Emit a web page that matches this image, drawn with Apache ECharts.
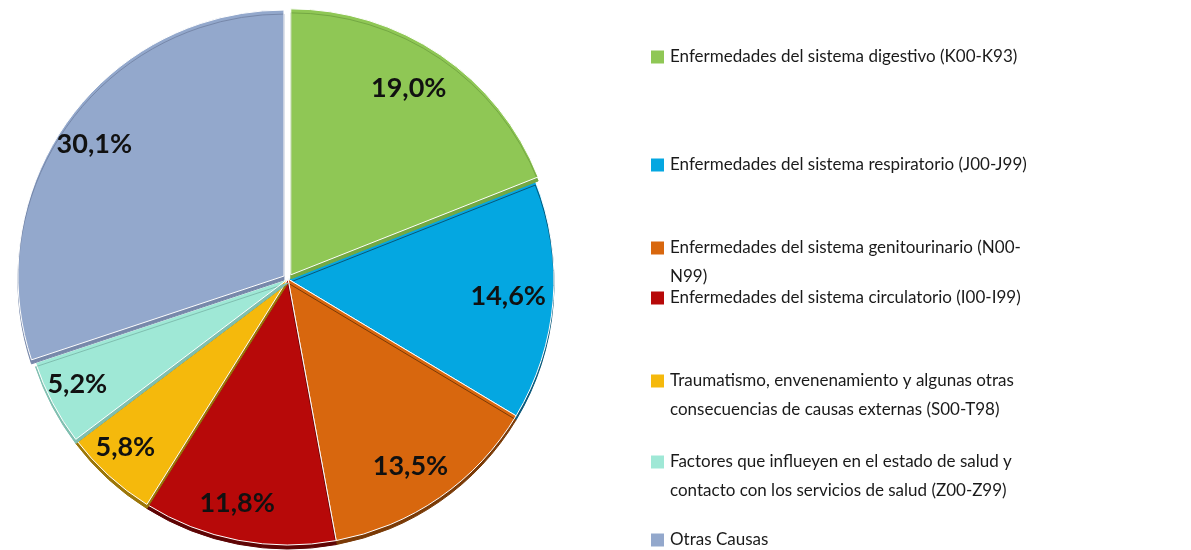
<!DOCTYPE html>
<html>
<head>
<meta charset="utf-8">
<script src="https://cdn.jsdelivr.net/npm/echarts@6/dist/echarts.min.js"></script>
<style>
html, body { margin: 0; padding: 0; background: #fff; }
#main { width: 1191px; height: 550px; }
</style>
</head>
<body>
<div id="main"></div>
<script>
// categorias y porcentajes
var categories = [
    'Enfermedades del sistema digestivo (K00-K93)',
    'Enfermedades del sistema respiratorio (J00-J99)',
    'Enfermedades del sistema genitourinario (N00-N99)',
    'Enfermedades del sistema circulatorio (I00-I99)',
    'Traumatismo, envenenamiento y algunas otras consecuencias de causas externas (S00-T98)',
    'Factores que influeyen en el estado de salud y contacto con los servicios de salud (Z00-Z99)',
    'Otras Causas'
];
var values = [19.0, 14.6, 13.5, 11.8, 5.8, 5.2, 30.1];

// texto de la leyenda con los cortes de linea del original
var legendText = [
    'Enfermedades del sistema digestivo (K00-K93)',
    'Enfermedades del sistema respiratorio (J00-J99)',
    'Enfermedades del sistema genitourinario (N00-\nN99)',
    'Enfermedades del sistema circulatorio (I00-I99)',
    'Traumatismo, envenenamiento y algunas otras\nconsecuencias de causas externas (S00-T98)',
    'Factores que influeyen en el estado de salud y\ncontacto con los servicios de salud (Z00-Z99)',
    'Otras Causas'
];

var colors = ['#8fc755', '#04a7e1', '#d8670e', '#b70909', '#f5b90c', '#9fe8d6', '#93a8cc'];
// color del "canto" de cada porcion (efecto 3D)
var edgeColors = ['#74a843', '#08587a', '#7a3a06', '#5e0404', '#9c7608', '#7fbfb0', '#7788aa'];

var myChart = echarts.init(document.getElementById('main'), null, { renderer: 'canvas' });

var font = 'Lato, "Open Sans", sans-serif';

// y del centro de la primera linea de cada entrada
var legendRows = [57, 165, 248, 298, 381, 462, 540];

var legends = categories.map(function (name, i) {
    var twoLines = legendText[i].indexOf('\n') >= 0;
    return {
        orient: 'vertical',
        left: 649,
        top: legendRows[i] - (twoLines ? 43.5 : 14.5),
        padding: 0,
        itemWidth: 15,
        itemHeight: 15,
        itemGap: 0,
        selectedMode: false,
        data: [{ name: name, icon: 'rect', itemStyle: { color: colors[i] } }],
        formatter: function () {
            // linea vacia delante para que el cuadro quede a la altura de la primera linea
            return twoLines ? ' \n' + legendText[i] : legendText[i];
        },
        textStyle: {
            fontFamily: font,
            fontSize: 17,
            lineHeight: 29,
            color: '#1a1a1a'
        }
    };
});

var pieData = categories.map(function (name, i) {
    return {
        name: name,
        value: values[i],
        selected: i === 0 || i === 6,
        itemStyle: { color: colors[i], shadowColor: edgeColors[i] }
    };
});

var labelData = categories.map(function (name, i) {
    return { name: name, value: values[i] };
});

var option = {
    animation: false,
    backgroundColor: '#ffffff',
    legend: legends,
    series: [
        {
            type: 'pie',
            z: 2,
            center: [288, 279],
            radius: 266,
            startAngle: 90,
            clockwise: true,
            silent: true,
            selectedMode: 'multiple',
            selectedOffset: 5,
            label: { show: false },
            labelLine: { show: false },
            itemStyle: {
                borderColor: '#ffffff',
                borderWidth: 1,
                shadowOffsetY: 4,
                shadowBlur: 0
            },
            data: pieData
        },
        {
            // solo etiquetas, por encima de la tarta
            type: 'pie',
            z: 5,
            center: [280, 278],
            radius: 452,
            startAngle: 90,
            clockwise: true,
            silent: true,
            selectedMode: false,
            itemStyle: { color: 'rgba(0,0,0,0)' },
            label: {
                show: true,
                position: 'inside',
                fontFamily: font,
                fontSize: 27,
                fontWeight: 'bold',
                color: '#111111',
                formatter: function (p) {
                    return p.value.toFixed(1).replace('.', ',') + '%';
                }
            },
            labelLine: { show: false },
            data: labelData
        }
    ]
};

myChart.setOption(option);
</script>
</body>
</html>
